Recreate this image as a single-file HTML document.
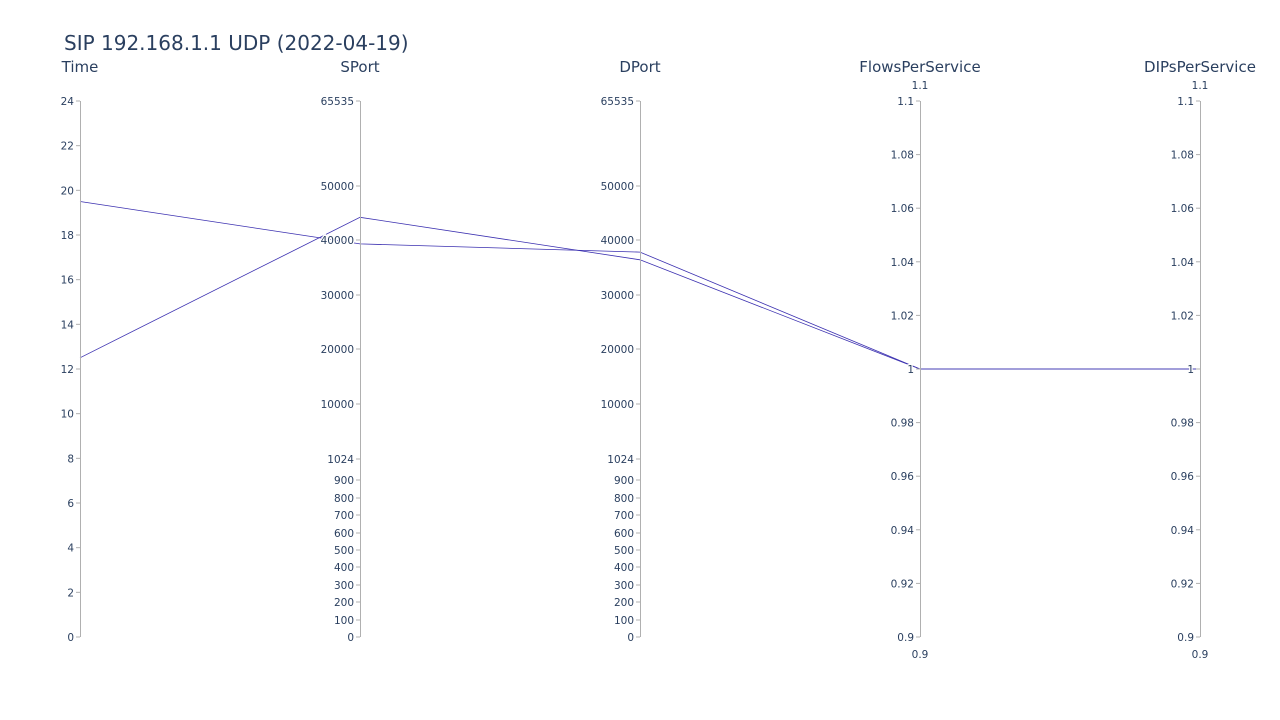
<!DOCTYPE html>
<html><head><meta charset="utf-8"><style>
body{margin:0;background:#fff;}
svg{display:block;font-family:"DejaVu Sans","Liberation Sans",sans-serif;}
</style></head><body>
<svg id="chart" width="1280" height="720">
<text x="64" y="50" font-size="20" fill="#2a3f5f">SIP 192.168.1.1 UDP (2022-04-19)</text>
<g id="lines"></g>
<g id="axes"></g>
</svg>
<script>
const dimNames = ["Time","SPort","DPort","FlowsPerService","DIPsPerService"];
const timeTicks = [0,2,4,6,8,10,12,14,16,18,20,22,24];
const portTicks = [0,100,200,300,400,500,600,700,800,900,1024,10000,20000,30000,40000,50000,65535];
const portTickLabels = ["0","100","200","300","400","500","600","700","800","900","1024","10000","20000","30000","40000","50000","65535"];
const ratioTicks = [0.9,0.92,0.94,0.96,0.98,1,1.02,1.04,1.06,1.08,1.1];
const ratioTickLabels = ["0.9","0.92","0.94","0.96","0.98","1","1.02","1.04","1.06","1.08","1.1"];
const seriesTime = [19.5,12.5];
const seriesSPort = [39300,44200];
const seriesDPort = [37800,36400];
const seriesFlows = [1,1];
const seriesDIPs = [1,1];

const TOP=101, BOT=637, X0=80, DX=280;
const portFrac = [0,17,35,52,70,87,104,122,139,157,178,233,288,342,397,451,536].map(v=>v/536);
function linY(v,min,max){return BOT-(v-min)/(max-min)*(BOT-TOP);}
function portY(v){
  for(let i=0;i<portTicks.length-1;i++){
    if(v<=portTicks[i+1]){
      const t=(v-portTicks[i])/(portTicks[i+1]-portTicks[i]);
      const f=portFrac[i]+t*(portFrac[i+1]-portFrac[i]);
      return BOT-f*(BOT-TOP);
    }
  }
  return TOP;
}
const scales=[v=>linY(v,0,24),portY,portY,v=>linY(v,0.9,1.1),v=>linY(v,0.9,1.1)];
const ticks=[timeTicks,portTicks,portTicks,ratioTicks,ratioTicks];
const labels=[timeTicks.map(String),portTickLabels,portTickLabels,ratioTickLabels,ratioTickLabels];
const series=[seriesTime,seriesSPort,seriesDPort,seriesFlows,seriesDIPs];
const NS="http://www.w3.org/2000/svg";
const lg=document.getElementById('lines'), ag=document.getElementById('axes');
for(let r=0;r<seriesTime.length;r++){
  const p=document.createElementNS(NS,'polyline');
  p.setAttribute('points',series.map((s,d)=>(X0+d*DX)+','+scales[d](s[r]).toFixed(1)).join(' '));
  p.setAttribute('fill','none');p.setAttribute('stroke','#3b30b0');p.setAttribute('stroke-width','0.8');
  
  
  lg.appendChild(p);
}
dimNames.forEach((n,d)=>{
  const x=X0+d*DX;
  const g=document.createElementNS(NS,'g');
  
  
  const t=document.createElementNS(NS,'text');
  t.setAttribute('x',x);t.setAttribute('y',72);t.setAttribute('text-anchor','middle');
  t.setAttribute('font-size','15');t.setAttribute('fill','#2a3f5f');t.textContent=n;
  
  
  g.appendChild(t);
  const l=document.createElementNS(NS,'line');
  l.setAttribute('x1',x+0.5);l.setAttribute('x2',x+0.5);l.setAttribute('y1',TOP);l.setAttribute('y2',BOT);
  l.setAttribute('stroke','#b0b0b0');l.setAttribute('stroke-width','1');
  
  
  g.appendChild(l);
  ticks[d].forEach((v,i)=>{
    const y=scales[d](v);
    const tk=document.createElementNS(NS,'line');
    tk.setAttribute('x1',x-4);tk.setAttribute('x2',x);tk.setAttribute('y1',y);tk.setAttribute('y2',y);
    tk.setAttribute('stroke','#b0b0b0');
    
    
    g.appendChild(tk);
    const tl=document.createElementNS(NS,'text');
    tl.setAttribute('x',x-6);tl.setAttribute('y',y+4);tl.setAttribute('text-anchor','end');
    tl.setAttribute('font-size','10.5');tl.setAttribute('fill','#2a3f5f');
    tl.setAttribute('stroke','#fff');tl.setAttribute('stroke-width','2.5');tl.setAttribute('paint-order','stroke');
    tl.textContent=labels[d][i];
    
    
    g.appendChild(tl);
  });
  if(d>=3){
    [["1.1",89],["0.9",658]].forEach(([s,y])=>{
      const e=document.createElementNS(NS,'text');
      e.setAttribute('x',x);e.setAttribute('y',y);e.setAttribute('text-anchor','middle');
      e.setAttribute('font-size','10.5');e.setAttribute('fill','#2a3f5f');e.textContent=s;
      
      
      g.appendChild(e);
    });
  }
  ag.appendChild(g);
});
</script>
</body></html>
